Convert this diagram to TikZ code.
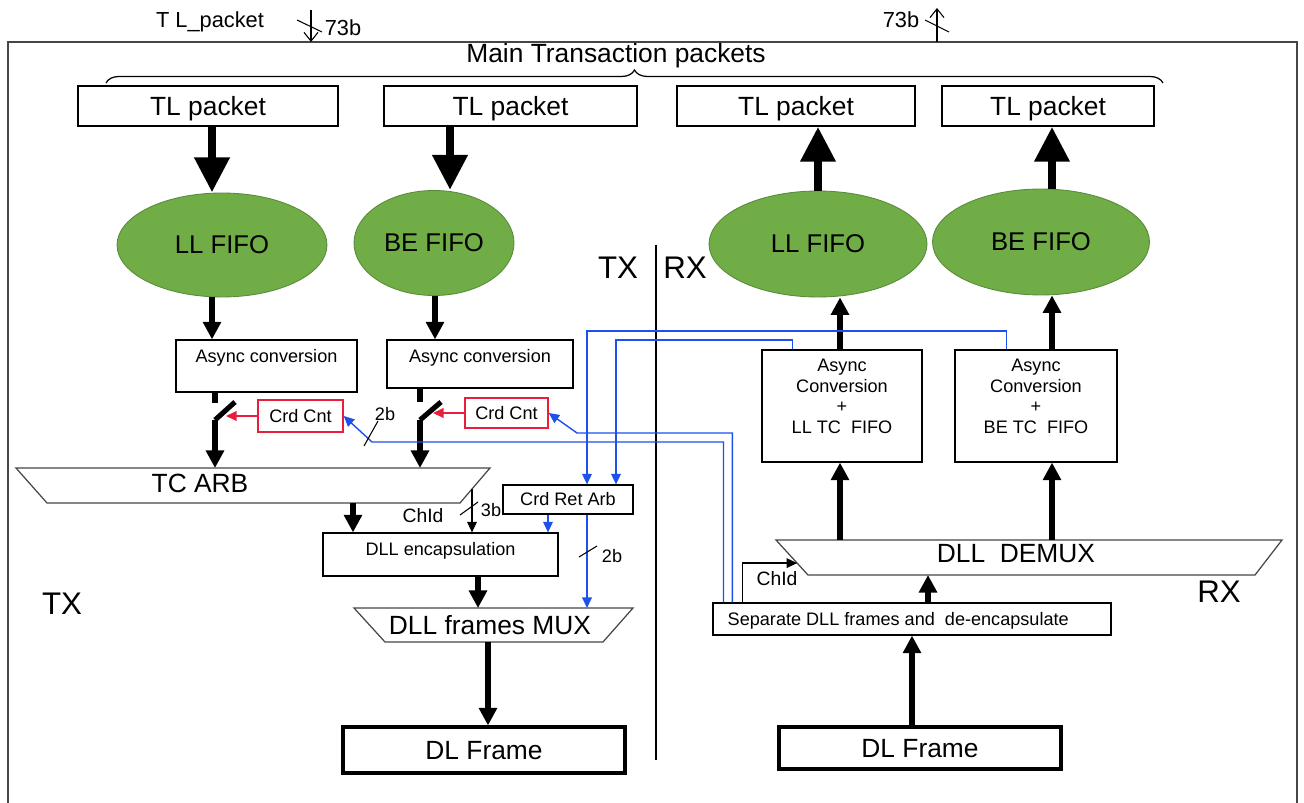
\documentclass[tikz,border=0pt]{standalone}
\usepackage{fontspec}
\setmainfont{Liberation Sans}
\usetikzlibrary{arrows.meta,decorations.pathreplacing,calc,shapes.geometric}

\definecolor{fifogreen}{RGB}{112,173,71}
\definecolor{fifoedge}{RGB}{88,140,58}
\definecolor{crdred}{RGB}{232,30,60}
\definecolor{crdblue}{RGB}{30,80,235}
\definecolor{edgegray}{RGB}{70,70,70}

\newcommand\fsTop{\fontsize{12.4}{14}\selectfont}
\newcommand\fsBig{\fontsize{15}{17}\selectfont}
\newcommand\fsFifo{\fontsize{14.6}{17}\selectfont}
\newcommand\fsSmall{\fontsize{10.3}{11.6}\selectfont}
\newcommand\fsSide{\fontsize{17.8}{20}\selectfont}
\newcommand\fsChid{\fontsize{11}{13}\selectfont}

\begin{document}
\begin{tikzpicture}[x=0.02cm,y=-0.02cm,
  box/.style={draw, line width=0.7pt, inner sep=0pt},
  bigtext/.style={font=\fsBig, text height=10.9pt, text depth=0pt},
  framebox/.style={draw, line width=1.8pt, inner sep=0pt},
  redbox/.style={draw=crdred, line width=0.8pt, inner sep=0pt, font=\fsSmall},
  fifo/.style={ellipse, fill=fifogreen, draw=fifoedge, line width=0.5pt, inner sep=0pt, font=\fsFifo},
  trap/.style={draw=edgegray, line width=0.7pt},
  bigarrow/.style={line width=5pt, -{Triangle[width=19pt,length=20pt]}},
  medarrow/.style={line width=2.9pt, -{Triangle[width=10pt,length=10pt]}},
  switchline/.style={line width=2.9pt},
  redarrow/.style={draw=crdred, line width=0.8pt, -{Triangle[width=5.5pt,length=6pt]}},
  bluearrow/.style={draw=crdblue, line width=0.8pt, -{Triangle[width=5.5pt,length=6pt]}},
  thinarrow/.style={line width=0.7pt, -{Triangle[width=5.5pt,length=6pt]}},
  tick/.style={line width=0.6pt},
  openarrow/.style={line width=0.6pt, -{Straight Barb[length=5pt,width=8pt]}},
  toplabel/.style={font=\fsSmall, anchor=north, inner sep=5.5pt, align=center},
]
\useasboundingbox (0,0) rectangle (1304,803);
\fill[white] (0,0) rectangle (1304,803);

% outer frame of the block
\draw[edgegray, line width=0.8pt] (8,803) -- (8,42) -- (1297,42) -- (1297,803);

% external interface annotations
\node[font=\fsTop] (tlin) at (210,22) {T L\_packet};
\coordinate (inTop) at (311,10);
\coordinate (inBot) at (311,42);
\draw[openarrow] (inTop) -- (inBot);
\draw[tick] (297,20) -- (322,32);
\node[font=\fsTop] (w73a) at (343,28) {73b};

\coordinate (outBot) at (937,42);
\coordinate (outTop) at (937,8);
\draw[openarrow] (outBot) -- (outTop);
\draw[tick] (925,20) -- (949,32);
\node[font=\fsTop] (w73b) at (901,20) {73b};

% main transaction packets
\node[bigtext] (main) at (616,53) {Main Transaction packets};
\draw[decorate, decoration={brace, amplitude=0.26cm}, line width=0.7pt] (106,83) -- (1163,83);

\node[box, bigtext, minimum width=5.2cm,  minimum height=0.8cm] (tl1) at (208,106)   {TL packet};
\node[box, bigtext, minimum width=5.06cm, minimum height=0.8cm] (tl2) at (510.5,106) {TL packet};
\node[box, bigtext, minimum width=4.76cm, minimum height=0.8cm] (tl3) at (796,106)   {TL packet};
\node[box, bigtext, minimum width=4.24cm, minimum height=0.8cm] (tl4) at (1048,106)  {TL packet};

% FIFOs
\node[fifo, minimum width=4.2cm,  minimum height=2.08cm] (ell1) at (222,245)  {LL FIFO};
\node[fifo, minimum width=3.2cm,  minimum height=2.1cm]  (ell2) at (434,243)  {BE FIFO};
\node[fifo, minimum width=4.36cm, minimum height=2.12cm] (ell3) at (818,244)  {LL FIFO};
\node[fifo, minimum width=4.34cm, minimum height=2.12cm] (ell4) at (1041,242) {BE FIFO};

% x positions of the vertical data paths
\coordinate (x212) at (212,0);
\coordinate (x450) at (450,0);
\coordinate (x435) at (435,0);
\coordinate (x840) at (840,0);
\coordinate (x1052) at (1052,0);
\coordinate (x478) at (478,0);
\coordinate (x488) at (488,0);
\coordinate (x928) at (928,0);
\coordinate (x548) at (548,0);
\coordinate (x587) at (587,0);

\draw[bigarrow] (tl1.south -| x212) -- (ell1.north -| x212);
\draw[bigarrow] (tl2.south -| x450) -- (ell2.north -| x450);
\draw[bigarrow] (ell3.north) -- (tl3.south -| ell3.north);
\draw[bigarrow] (ell4.north -| x1052) -- (tl4.south -| x1052);

% TX / RX split
\node[font=\fsSide] (txmid) at (618,268) {TX};
\node[font=\fsSide] (rxmid) at (685,268) {RX};
\draw[line width=0.8pt] (656,245) -- (656,760);
\node[font=\fsSide] (txleft) at (62,604) {TX};
\node[font=\fsSide] (rxright) at (1219,592) {RX};

% TX async conversion
\node[box, minimum width=3.62cm, minimum height=1.04cm,
      label={[toplabel]north:Async conversion}] (as1) at (266.5,366) {};
\node[box, minimum width=3.72cm, minimum height=0.96cm,
      label={[toplabel]north:Async conversion}] (as2) at (480,364) {};
\draw[medarrow] (ell1.south -| x212) -- (as1.north -| x212);
\draw[medarrow] (ell2.south -| x435) -- (as2.north -| x435);

% credit counters
\node[redbox, minimum width=1.7cm,  minimum height=0.64cm] (cc1) at (300.5,416) {Crd Cnt};
\node[redbox, minimum width=1.66cm, minimum height=0.6cm]  (cc2) at (506.5,413) {Crd Cnt};

% TC arbiter
\coordinate (tcNW) at (16,468);
\coordinate (tcNE) at (490,468);
\coordinate (tcSE) at (460,503);
\coordinate (tcSW) at (47,503);
\draw[trap] (tcNW) -- (tcNE) -- (tcSE) -- (tcSW) -- cycle;
\node[bigtext] (tcarb) at (200,483) {TC ARB};

% gating switches
\coordinate (sw1p) at (215,420);
\coordinate (sw1t) at (235,402);
\coordinate (sw2p) at (420,420);
\coordinate (sw2t) at (441,402);
\draw[switchline] (as1.south -| sw1p) -- +(0,10);
\draw[switchline] (as2.south -| sw2p) -- +(0,13);
\draw[switchline] (sw1p) -- (sw1t);
\draw[switchline] (sw2p) -- (sw2t);
\draw[medarrow] (sw1p) -- (sw1p |- tcNW);
\draw[medarrow] (sw2p) -- (sw2p |- tcNW);
\coordinate (sw1m) at (226,417);
\coordinate (sw2m) at (433,413);
\draw[redarrow] (cc1.west) -- (cc1.west -| sw1m);
\draw[redarrow] (cc2.west) -- (cc2.west -| sw2m);

% credit return arbiter and DLL encapsulation
\node[box, minimum width=2.6cm, minimum height=0.58cm, font=\fsSmall] (cra) at (568,499.5) {Crd Ret Arb};
\node[box, minimum width=4.7cm, minimum height=0.86cm,
      label={[toplabel]north:DLL encapsulation}] (encap) at (440.5,554.5) {};

\coordinate (c353) at (353,503);
\draw[medarrow] (c353) -- (c353 |- encap.north);

\coordinate (chA) at ($(tcNE)!0.6!(tcSE)$);
\draw[thinarrow] (chA) -- (chA |- encap.north);
\draw[tick] (460,515) -- (478,502);
\node[font=\fsSmall] (w3b) at (491,510) {3b};
\node[font=\fsChid] (chidL) at (423,516) {ChId};

% DLL frames multiplexer
\coordinate (muxNW) at (354,608);
\coordinate (muxNE) at (633,608);
\coordinate (muxSE) at (603,642);
\coordinate (muxSW) at (385,642);
\draw[trap] (muxNW) -- (muxNE) -- (muxSE) -- (muxSW) -- cycle;
\node[bigtext] (mux) at (490,625) {DLL frames MUX};
\draw[medarrow] (encap.south -| x478) -- (x478 |- muxNW);

\node[framebox, bigtext, minimum width=5.64cm, minimum height=0.92cm] (dlf1) at (484,750) {DL Frame};
\draw[medarrow] (x488 |- muxSW) -- (x488 |- dlf1.north);

% credit return paths into the arbiter
\draw[bluearrow] (cra.south -| x548) -- (encap.north -| x548);
\draw[bluearrow] (cra.south -| x587) -- (x587 |- muxNW);
\draw[tick] (579,557) -- (597,546);
\node[font=\fsSmall] (w2b) at (612,556) {2b};

% RX side
\node[box, minimum width=3.2cm, minimum height=2.24cm,
      label={[toplabel]north:Async\\Conversion\\+\\LL TC\ \ FIFO}] (rxas1) at (842,406) {};
\node[box, minimum width=3.24cm, minimum height=2.24cm,
      label={[toplabel]north:Async\\Conversion\\+\\BE TC\ \ FIFO}] (rxas2) at (1036,406) {};
\draw[medarrow] (rxas1.north -| x840) -- (x840 |- ell3.south);
\draw[medarrow] (rxas2.north -| x1052) -- (x1052 |- ell4.south);

\coordinate (dmNW) at (776,540);
\coordinate (dmNE) at (1282,540);
\coordinate (dmSE) at (1255,575);
\coordinate (dmSW) at (808,575);
\draw[trap] (dmNW) -- (dmNE) -- (dmSE) -- (dmSW) -- cycle;
\node[bigtext] (demux) at (1016,553) {DLL\ \ DEMUX};
\draw[medarrow] (x840 |- dmNW) -- (x840 |- rxas1.south);
\draw[medarrow] (x1052 |- dmNW) -- (x1052 |- rxas2.south);

\node[box, minimum width=7.96cm, minimum height=0.64cm,
      label={[font=\fsSmall, anchor=west, inner sep=0pt, xshift=8.5pt, yshift=-1pt]west:Separate DLL frames and\ \ de-encapsulate}] (sep) at (912,619) {};
\draw[medarrow] (sep.north -| x928) -- (x928 |- dmSW);

\node[framebox, bigtext, minimum width=5.64cm, minimum height=0.84cm] (dlf2) at (920,748) {DL Frame};
\draw[medarrow] (sep.south |- dlf2.north) -- (sep.south);

% channel id into the demultiplexer
\coordinate (p5) at ($(sep.north west)!0.075!(sep.north east)$);
\coordinate (chB) at ($(dmNW)!0.66!(dmSW)$);
\draw[thinarrow] (p5) |- (chB);
\node[font=\fsChid] (chidR) at (777,579) {ChId};

% credit information from the RX side
\coordinate (p1) at ($(rxas1.north west)!0.194!(rxas1.north east)$);
\coordinate (q1) at (616,340);
\draw[bluearrow] (p1) |- (q1) -- (q1 |- cra.north);
\coordinate (p2) at ($(rxas2.north west)!0.32!(rxas2.north east)$);
\coordinate (q2) at (587,331);
\draw[bluearrow] (p2) |- (q2) -- (q2 |- cra.north);

\coordinate (p3) at ($(sep.north west)!0.05!(sep.north east)$);
\coordinate (q3) at (577,433);
\draw[bluearrow] (p3) |- (q3) -- (cc2.east);
\coordinate (p4) at ($(sep.north west)!0.0276!(sep.north east)$);
\coordinate (q4) at (372,442);
\draw[bluearrow] (p4) |- (q4) -- (cc1.east);
\draw[tick] (364,446) -- (378,421);
\node[font=\fsSmall] (w2c) at (385,414) {2b};
\end{tikzpicture}
\end{document}
